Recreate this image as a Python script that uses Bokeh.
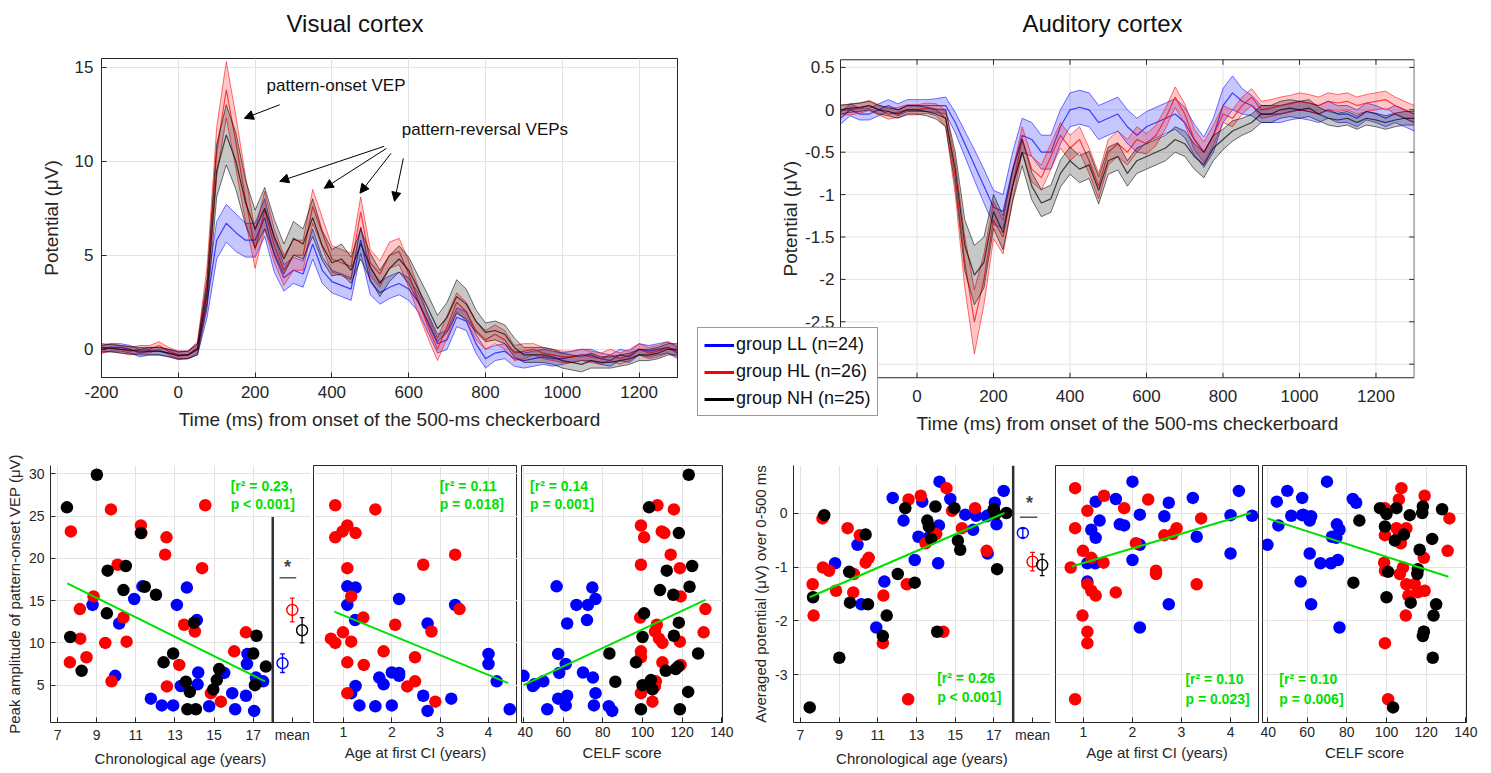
import numpy as np
from bokeh.plotting import figure
from bokeh.layouts import column, row
from bokeh.models import (Range1d, FixedTicker, Legend, LegendItem, Label, Arrow,
                          NormalHead, Span, Title)
from bokeh.core.properties import value
from bokeh.embed import file_html
from bokeh.resources import INLINE

# ---------------- DATA ----------------
t_ms = list(range(-200, 1301, 25))

vis_LL_mean = [0.0, 0.1, 0.1, 0.0, -0.2, -0.1, -0.1, -0.2, -0.3, -0.3,
               0.0, 2.5, 5.8, 6.7, 6.2, 5.8, 5.8, 7.0, 5.0, 3.8,
               4.2, 4.0, 5.6, 4.2, 3.6, 3.4, 3.2, 5.8, 3.6, 3.0,
               3.3, 3.5, 3.2, 2.5, 1.4, 0.3, 0.5, 1.7, 1.5, 0.3,
               -0.5, -0.2, -0.1, -0.5, -0.6, -0.5, -0.4, -0.5, -0.5, -0.4,
               -0.3, -0.3, -0.5, -0.6, -0.3, -0.4, 0.0, -0.1, 0.0, 0.1,
               -0.2]
vis_LL_sem = [0.2, 0.2, 0.2, 0.2, 0.2, 0.2, 0.2, 0.2, 0.2, 0.2,
              0.3, 0.8, 1.0, 1.0, 1.0, 0.9, 0.9, 1.0, 0.9, 0.7,
              0.7, 0.7, 0.8, 0.7, 0.6, 0.6, 0.6, 0.7, 0.7, 0.6,
              0.6, 0.6, 0.6, 0.5, 0.5, 0.5, 0.5, 0.5, 0.5, 0.5,
              0.5, 0.4, 0.4, 0.4, 0.4, 0.4, 0.4, 0.4, 0.3, 0.3,
              0.3, 0.3, 0.3, 0.3, 0.3, 0.3, 0.3, 0.3, 0.3, 0.3,
              0.3]
vis_HL_mean = [0.0, 0.1, 0.0, -0.1, 0.0, 0.0, 0.2, -0.1, -0.3, -0.3,
               0.1, 3.5, 10.5, 13.8, 11.0, 8.0, 5.3, 7.4, 5.5, 4.2,
               5.0, 5.0, 7.6, 6.2, 4.8, 4.6, 4.4, 7.3, 4.6, 4.0,
               5.0, 5.2, 4.0, 2.6, 1.2, 0.0, 1.2, 2.5, 2.0, 1.0,
               0.5, 0.8, 0.5, -0.2, -0.1, 0.0, -0.2, -0.3, -0.4, -0.4,
               -0.3, -0.4, -0.5, -0.3, -0.5, -0.3, 0.0, -0.2, -0.1, 0.1,
               -0.1]
vis_HL_sem = [0.2, 0.2, 0.2, 0.2, 0.2, 0.2, 0.2, 0.2, 0.2, 0.2,
              0.3, 0.9, 1.3, 1.5, 1.4, 1.2, 1.0, 1.0, 0.9, 0.8,
              0.8, 0.8, 0.9, 0.8, 0.7, 0.7, 0.7, 0.8, 0.7, 0.7,
              0.7, 0.7, 0.7, 0.7, 0.6, 0.6, 0.6, 0.5, 0.5, 0.5,
              0.5, 0.5, 0.5, 0.4, 0.4, 0.3, 0.3, 0.3, 0.3, 0.3,
              0.3, 0.3, 0.3, 0.3, 0.3, 0.3, 0.3, 0.3, 0.3, 0.3,
              0.3]
vis_NH_mean = [0.1, 0.05, 0.0, -0.05, -0.1, -0.1, -0.1, -0.2, -0.35, -0.3,
               0.0, 3.0, 9.5, 11.4, 10.0, 7.8, 6.4, 7.5, 6.0, 4.8,
               5.9, 5.6, 7.0, 5.5, 4.6, 4.8, 4.2, 5.6, 4.4, 3.5,
               4.3, 4.8, 4.2, 3.2, 2.2, 1.1, 1.7, 2.8, 2.4, 1.5,
               0.9, 1.0, 0.8, 0.1, -0.3, -0.3, -0.3, -0.4, -0.6, -0.7,
               -0.8, -0.6, -0.7, -0.7, -0.6, -0.5, -0.3, -0.3, -0.2, 0.0,
               0.0]
vis_NH_sem = [0.2, 0.2, 0.2, 0.2, 0.2, 0.2, 0.2, 0.2, 0.2, 0.2,
              0.3, 0.8, 1.4, 1.6, 1.5, 1.2, 1.0, 1.1, 0.9, 0.8,
              0.9, 0.8, 1.0, 0.8, 0.7, 0.8, 0.7, 0.8, 0.7, 0.7,
              0.7, 0.7, 0.7, 0.7, 0.7, 0.7, 0.8, 0.9, 0.8, 0.6,
              0.5, 0.5, 0.5, 0.5, 0.4, 0.4, 0.4, 0.4, 0.4, 0.4,
              0.4, 0.4, 0.3, 0.3, 0.3, 0.3, 0.3, 0.3, 0.3, 0.3,
              0.3]

aud_LL_mean = [-0.1, 0.0, -0.05, -0.05, 0.0, 0.05, 0.0, 0.05, 0.05, 0.05,
               0.05, 0.05, -0.15, -0.4, -0.65, -0.9, -1.15, -1.2, -0.7, -0.3,
               -0.35, -0.5, -0.5, -0.2, 0.0, 0.03, 0.0, -0.15, -0.1, -0.05,
               -0.2, -0.3, -0.2, -0.15, -0.1, -0.05, -0.15, -0.35, -0.5, -0.3,
               0.05, 0.2, 0.1, 0.05, -0.05, -0.05, -0.05, -0.02, 0.0, -0.02,
               -0.05, 0.0, -0.05, -0.05, -0.1, -0.02, -0.05, -0.1, -0.05, -0.1,
               -0.15]
aud_LL_sem = [0.07, 0.07, 0.07, 0.07, 0.07, 0.07, 0.07, 0.07, 0.07, 0.07,
              0.08, 0.1, 0.12, 0.15, 0.18, 0.2, 0.2, 0.2, 0.2, 0.2,
              0.2, 0.2, 0.2, 0.2, 0.2, 0.2, 0.2, 0.2, 0.2, 0.2,
              0.2, 0.2, 0.18, 0.18, 0.18, 0.18, 0.18, 0.18, 0.18, 0.2,
              0.2, 0.2, 0.15, 0.12, 0.1, 0.1, 0.1, 0.1, 0.1, 0.1,
              0.1, 0.1, 0.1, 0.1, 0.1, 0.1, 0.1, 0.1, 0.1, 0.1,
              0.1]
aud_HL_mean = [0.0, 0.0, 0.02, 0.05, 0.0, -0.05, -0.03, 0.0, 0.0, 0.02,
               0.0, -0.1, -0.8, -1.8, -2.5, -2.0, -1.3, -1.5, -0.9, -0.35,
               -0.7, -0.8, -0.55, -0.3, -0.45, -0.35, -0.6, -0.9, -0.5, -0.4,
               -0.5, -0.35, -0.4, -0.3, -0.1, 0.15, -0.05, -0.35, -0.5, -0.3,
               -0.05, -0.1, 0.05, 0.15, 0.0, 0.02, 0.05, 0.07, 0.1, 0.08,
               0.05, 0.1, 0.08, 0.1, 0.05, 0.08, 0.1, 0.12, 0.05, 0.0,
               -0.05]
aud_HL_sem = [0.06, 0.06, 0.06, 0.06, 0.06, 0.06, 0.06, 0.06, 0.06, 0.06,
              0.07, 0.1, 0.2, 0.3, 0.38, 0.3, 0.22, 0.2, 0.18, 0.15,
              0.15, 0.15, 0.15, 0.15, 0.15, 0.15, 0.15, 0.15, 0.15, 0.15,
              0.15, 0.15, 0.12, 0.12, 0.12, 0.12, 0.12, 0.12, 0.12, 0.12,
              0.1, 0.1, 0.1, 0.1, 0.1, 0.1, 0.1, 0.1, 0.1, 0.1,
              0.1, 0.1, 0.1, 0.1, 0.1, 0.1, 0.1, 0.1, 0.1, 0.1,
              0.1]
aud_NH_mean = [0.0, 0.02, 0.03, 0.05, 0.0, -0.02, -0.05, 0.0, 0.0, -0.02,
               -0.05, -0.1, -0.7, -1.6, -1.95, -1.8, -1.2, -1.45, -0.9, -0.5,
               -0.9, -1.1, -1.05, -0.75, -0.6, -0.7, -0.65, -0.95, -0.6, -0.55,
               -0.75, -0.6, -0.55, -0.5, -0.45, -0.35, -0.4, -0.55, -0.65, -0.45,
               -0.35, -0.25, -0.2, -0.15, -0.05, -0.05, 0.0, 0.02, 0.0, 0.02,
               -0.05, -0.1, -0.12, -0.1, -0.15, -0.1, -0.12, -0.15, -0.12, -0.1,
               -0.1]
aud_NH_sem = [0.05, 0.05, 0.05, 0.05, 0.05, 0.05, 0.05, 0.05, 0.05, 0.05,
              0.06, 0.1, 0.2, 0.3, 0.35, 0.3, 0.2, 0.2, 0.18, 0.16,
              0.16, 0.16, 0.16, 0.16, 0.16, 0.16, 0.16, 0.16, 0.16, 0.16,
              0.15, 0.15, 0.15, 0.15, 0.15, 0.15, 0.15, 0.15, 0.15, 0.15,
              0.12, 0.12, 0.1, 0.1, 0.1, 0.1, 0.1, 0.1, 0.1, 0.1,
              0.08, 0.08, 0.08, 0.08, 0.08, 0.08, 0.08, 0.08, 0.08, 0.08,
              0.08]

# per-subject values
age_LL = [8.79, 9.95, 10.15, 10.92, 11.34, 11.77, 12.33, 12.91, 13.10, 13.30, 13.61, 14.12,
          14.19, 14.16, 14.75, 15.52, 15.93, 16.08, 16.63, 16.71, 16.68, 17.05, 17.14, 17.51]
ci_LL = [1.08, 2.15, 2.74, 2.15, 1.08, 3.23, 1.33, 2.00, 3.31, 1.25, 1.25, 1.24,
         2.00, 1.83, 1.66, 2.15, 1.16, 4.44, 2.65, 4.00, 4.00, 2.74, 1.74, 4.17]
celf_LL = [66.7, 40, 62, 76.3, 56.7, 57.5, 61.3, 75.5, 72.5, 44.7, 74.7, 72,
           70, 45.5, 83, 58, 76.3, 52, 62, 57.5, 61.3, 84.7, 75, 50]
vep_LL = [14.5, 6.1, 12.3, 15.2, 16.7, 3.4, 2.6, 2.6, 14.5, 4.9, 16.55, 12.7,
          6.5, 5.1, 2.5, 6.45, 4.05, 2.15, 3.75, 8.7, 7.5, 1.95, 5.9, 5.45]
aud_LL = [-0.93, -0.59, -1.69, -2.12, -1.27, 0.28, -0.14, -0.87, -0.44, 0.21, -0.46, -0.93,
          0.58, -0.23, 0.26, -0.03, -0.31, -0.05, -0.06, -0.04, -0.75, 0.19, -0.21, 0.41]

age_HL = [7.68, 7.63, 8.14, 8.16, 8.48, 8.84, 9.73, 9.44, 9.76, 10.07, 10.37, 10.53, 11.26,
          11.29, 12.57, 12.50, 12.59, 13.22, 13.47, 14.02, 14.39, 14.55, 14.84, 15.35, 16.03, 16.63]
ci_HL = [0.98, 1.08, 3.40, 0.74, 2.48, 1.16, 1.66, 0.83, 2.48, 2.65, 1.41, 1.16, 1.08,
         1.25, 0.83, 3.31, 2.32, 1.42, 2.07, 2.82, 1.08, 0.83, 1.08, 2.90, 1.83, 0.99]
celf_HL = [109.7, 110, 131.7, 108.3, 99.2, 119.2, 115.8, 110, 106.7, 99.2, 98.8, 118.8, 99.2,
           111, 100.8, 114.2, 106.2, 119.2, 107.2, 106.3, 118.8, 107.5, 99.2, 105, 99.2, 130.8]
vep_HL = [23.2, 7.7, 14.0, 10.5, 8.3, 15.5, 25.8, 10.0, 5.45, 19.25, 13.0, 10.15, 23.9,
          23.0, 22.5, 20.45, 4.85, 7.4, 12.15, 11.35, 18.85, 26.3, 4.05, 3.05, 9.0, 11.25]
aud_HL = [-1.9, -1.32, -0.1, -1.01, -1.07, -1.44, -1.47, -0.28, -1.13, -0.41, -0.92, -0.83, -2.41,
          -1.53, -3.45, -1.32, 0.25, 0.32, -0.56, -0.39, -2.2, 0.46, 0.04, -0.28, 0.09, -0.70]

age_NH = [7.48, 9.01, 7.65, 8.23, 9.56, 9.52, 10.49, 10.37, 11.26, 11.46, 12.03, 12.42, 12.91,
          13.56, 13.76, 13.64, 14.07, 13.98, 14.96, 15.14, 15.26, 17.00, 17.17, 17.09, 17.65]
celf_NH = [103.3, 123.3, 100, 111.7, 112.2, 100.8, 125, 108.8, 118.3, 123.7, 115.5, 96.7, 83.3,
           86.3, 123, 99.2, 118.8, 118.3, 105, 104.2, 116.7, 128, 115.8, 100, 118]
vep_NH = [26.05, 29.9, 10.7, 6.7, 18.55, 13.5, 19.1, 16.25, 23.0, 16.65, 15.7, 7.7, 8.75,
          5.4, 4.2, 2.15, 2.15, 12.4, 4.5, 5.6, 6.9, 8.75, 10.85, 5.0, 7.2]
aud_NH = [-3.6, -2.68, -1.56, -0.04, -1.66, -1.09, -1.69, -0.40, -2.28, -1.90, -1.13, 0.09, -1.29,
          -0.14, -0.48, -0.25, -2.2, 0.12, 0.09, -0.51, -0.68, 0.07, -1.04, -0.02, 0.0]

# group means (LL, HL, NH) shown in "mean" column
mean_pos = [18.5, 19.0, 19.5]
vep_grp_mean = [7.6, 13.9, 11.5]
vep_grp_sem = [1.1, 1.4, 1.5]
aud_grp_mean = [-0.37, -0.90, -0.96]
aud_grp_sem = [0.08, 0.17, 0.20]

# regression lines (end points)
fit_vep_age_x, fit_vep_age_y = [7.5, 17.6], [17.05, 5.45]
fit_vep_ci_x, fit_vep_ci_y = [0.81, 4.41], [13.7, 5.24]
fit_vep_celf_x, fit_vep_celf_y = [40, 131.7], [5.0, 15.1]
fit_aud_age_x, fit_aud_age_y = [7.47, 17.55], [-1.56, 0.0]
fit_aud_ci_x, fit_aud_ci_y = [0.76, 4.41], [-0.99, 0.0]
fit_aud_celf_x, fit_aud_celf_y = [40, 131.2], [-0.1, -1.18]

stats_vep = [["[r² = 0.23,", "p < 0.001]"], ["[r² = 0.11", "p = 0.018]"], ["[r² = 0.14", "p = 0.001]"]]
stats_aud = [["[r² = 0.26", "p < 0.001]"], ["[r² = 0.10", "p = 0.023]"], ["[r² = 0.10", "p = 0.006]"]]

group_labels = ["group LL (n=24)", "group HL (n=26)", "group NH (n=25)"]

time_ticks = [-200, 0, 200, 400, 600, 800, 1000, 1200]
aud_ticks = [-3, -2.5, -2, -1.5, -1, -0.5, 0, 0.5]
aud_tick_labels = ["-3", "-2.5", "-2", "-1.5", "-1", "-0.5", "0", "0.5"]

# ---------------- STYLE ----------------
FONT = "Liberation Sans"
BLUE, RED, BLACK = "#0000ff", "#ff0000", "#000000"
COLORS = [BLUE, RED, BLACK]
GREEN = "#00e000"
AX = "#262626"
GRID = "#e3e3e3"


def style(p, tick_size, label_size, lab_standoff, ax_standoff):
    for ax in p.axis:
        ax.axis_line_color = AX
        ax.major_tick_line_color = AX
        ax.minor_tick_line_color = None
        ax.major_tick_in = 5
        ax.major_tick_out = 0
        ax.major_label_text_font = FONT
        ax.major_label_text_font_size = tick_size
        ax.major_label_text_color = AX
        ax.axis_label_text_font = FONT
        ax.axis_label_text_font_size = label_size
        ax.axis_label_text_font_style = "normal"
        ax.axis_label_text_color = AX
        ax.major_label_standoff = lab_standoff
        ax.axis_label_standoff = ax_standoff
    p.grid.grid_line_color = GRID
    p.grid.grid_line_width = 1
    p.background_fill_color = "white"
    p.border_fill_color = "white"


def set_title(p, text, offset):
    # spacer panel next to the frame, then the real title further out
    p.add_layout(Title(text=" ", text_font_size="1px", standoff=19), "above")
    p.add_layout(Title(text=text, align="left", offset=offset, text_font=FONT,
                       text_font_size="24px", text_font_style="normal",
                       text_color="#111111", standoff=0), "above")


def bands(p, means, sems):
    tt = np.array(t_ms, dtype=float)
    for m, s, c in zip(means, sems, COLORS):
        m = np.array(m); s = np.array(s)
        lo, hi = m - s, m + s
        p.varea(x=tt, y1=lo, y2=hi, fill_color=c, fill_alpha=0.22)
        p.line(tt, lo, color=c, line_width=1, line_alpha=0.55)
        p.line(tt, hi, color=c, line_width=1, line_alpha=0.55)
        p.line(tt, m, color=c, line_width=1.2, line_alpha=0.7)


# ---------------- VISUAL PANEL ----------------
p_vis = figure(title=None, frame_width=576, frame_height=319, x_range=Range1d(-200, 1300),
               y_range=Range1d(-1.5, 15.46), min_border_left=101, min_border_right=13,
               min_border_top=58, min_border_bottom=63,
               output_backend="svg", toolbar_location=None)
set_title(p_vis, "Visual cortex", 185)
p_vis.xaxis.ticker = FixedTicker(ticks=time_ticks)
p_vis.xaxis.major_label_overrides = {-200: "-200"}
p_vis.yaxis.ticker = FixedTicker(ticks=[0, 5, 10, 15])
p_vis.xaxis.axis_label = "Time (ms) from onset of the 500-ms checkerboard"
p_vis.yaxis.axis_label = "Potential (μV)"
style(p_vis, "17px", "19px", 8, 8)
p_vis.yaxis.axis_label_standoff = 10
p_vis.outline_line_color = AX
bands(p_vis, [vis_LL_mean, vis_HL_mean, vis_NH_mean], [vis_LL_sem, vis_HL_sem, vis_NH_sem])

lab_kw = dict(text_font=FONT, text_font_size="17px", text_color="#111111", text_baseline="middle")
p_vis.add_layout(Label(x=230, y=14.0, text="pattern-onset VEP", **lab_kw))
p_vis.add_layout(Label(x=582, y=11.69, text="pattern-reversal VEPs", **lab_kw))
for (xs, ys, xe, ye) in [(264, 13.0, 172, 12.28), (536, 10.79, 264, 8.93), (542, 10.68, 380, 8.56),
                         (554, 10.42, 473, 8.3), (586, 10.15, 563, 7.87)]:
    p_vis.add_layout(Arrow(end=NormalHead(size=9, fill_color="black", line_color="black"),
                           x_start=xs, y_start=ys, x_end=xe, y_end=ye,
                           line_color="black", line_width=1))

# ---------------- AUDITORY PANEL (axes drawn inside an enlarged frame) ----------------
X0, X1 = -200, 1300          # drawn axes box (time)
Y0, Y1 = -3.16, 0.59         # drawn axes box (potential)
TK_X = 5 / 0.3825            # 5 px tick in ms
TK_Y = 5 / 84.8              # 5 px tick in uV
p_aud = figure(title=None, frame_width=717, frame_height=382, x_range=Range1d(-573.9, 1300.7),
               y_range=Range1d(-3.90, 0.605), min_border_left=7, min_border_right=77,
               min_border_top=58, min_border_bottom=0,
               output_backend="svg", toolbar_location=None)
set_title(p_aud, "Auditory cortex", 325)
p_aud.xaxis.visible = False
p_aud.yaxis.visible = False
p_aud.grid.visible = False
p_aud.outline_line_color = None
p_aud.background_fill_color = "white"
p_aud.border_fill_color = "white"

gx = time_ticks[1:]
p_aud.segment(x0=gx, y0=[Y0] * len(gx), x1=gx, y1=[Y1] * len(gx), line_color=GRID, line_width=1)
p_aud.segment(x0=[X0] * len(aud_ticks), y0=aud_ticks, x1=[X1] * len(aud_ticks), y1=aud_ticks,
              line_color=GRID, line_width=1)
bands(p_aud, [aud_LL_mean, aud_HL_mean, aud_NH_mean], [aud_LL_sem, aud_HL_sem, aud_NH_sem])
p_aud.segment(x0=[X0, X1, X0, X0], y0=[Y0, Y0, Y0, Y1], x1=[X0, X1, X1, X1], y1=[Y1, Y1, Y0, Y1],
              line_color=AX, line_width=1)
p_aud.segment(x0=gx, y0=[Y0] * len(gx), x1=gx, y1=[Y0 + TK_Y] * len(gx), line_color=AX)
p_aud.segment(x0=gx, y0=[Y1] * len(gx), x1=gx, y1=[Y1 - TK_Y] * len(gx), line_color=AX)
p_aud.segment(x0=[X0] * len(aud_ticks), y0=aud_ticks, x1=[X0 + TK_X] * len(aud_ticks), y1=aud_ticks,
              line_color=AX)
p_aud.segment(x0=[X1] * len(aud_ticks), y0=aud_ticks, x1=[X1 - TK_X] * len(aud_ticks), y1=aud_ticks,
              line_color=AX)
p_aud.text(x=gx, y=[Y0 - 0.215] * len(gx), text=[str(v) for v in gx], text_font=value(FONT),
           text_font_size=value("17px"), text_color=AX, text_align="center", text_baseline="middle")
p_aud.text(x=[X0 - 16] * len(aud_ticks), y=aud_ticks, text=aud_tick_labels, text_font=value(FONT),
           text_font_size=value("17px"), text_color=AX, text_align="right", text_baseline="middle")
p_aud.text(x=[550], y=[Y0 - 0.545], text=["Time (ms) from onset of the 500-ms checkerboard"],
           text_font=value(FONT), text_font_size=value("19px"), text_color=AX,
           text_align="center", text_baseline="middle")
p_aud.text(x=[-331], y=[(Y0 + Y1) / 2], text=["Potential (μV)"], angle=np.pi / 2,
           text_font=value(FONT), text_font_size=value("19px"), text_color=AX,
           text_align="center", text_baseline="middle")

items = []
for lab, c in zip(group_labels, COLORS):
    # legend-only renderer, placed outside the visible ranges
    r = p_aud.line(x=[5000, 5001], y=[50, 50], color=c, line_width=3)
    items.append(LegendItem(label=lab, renderers=[r]))
leg = Legend(items=items, location=(0, 24), label_text_font=FONT, label_text_font_size="18px",
             label_text_color="#111111", glyph_width=30, glyph_height=20, label_standoff=2,
             padding=6, spacing=6, margin=0, border_line_color="#333333", border_line_width=1,
             background_fill_color="white", background_fill_alpha=1.0)
p_aud.add_layout(leg)


# ---------------- BOTTOM PANELS ----------------
def bottom_fig(fw, bl, br, xr, yr, xticks, xlabel, yticks, ylabel=None, yover=None,
               xover=None, gridx=None, box=True):
    p = figure(title=None, frame_width=fw, frame_height=257, x_range=Range1d(*xr),
               y_range=Range1d(*yr),
               min_border_left=bl, min_border_right=br, min_border_top=25, min_border_bottom=48,
               output_backend="svg", toolbar_location=None)
    p.xaxis.ticker = FixedTicker(ticks=xticks)
    if xover:
        p.xaxis.major_label_overrides = xover
    p.xgrid.ticker = FixedTicker(ticks=gridx if gridx else xticks)
    p.ygrid.ticker = FixedTicker(ticks=yticks)
    p.xaxis.axis_label = xlabel
    if ylabel is None:
        p.yaxis.visible = False
    else:
        p.yaxis.ticker = FixedTicker(ticks=yticks)
        p.yaxis.axis_label = ylabel
        if yover:
            p.yaxis.major_label_overrides = yover
    style(p, "14px", "15px", 4, 4)
    p.yaxis.major_label_standoff = 6
    p.yaxis.axis_label_standoff = 3
    p.outline_line_color = AX if box else None
    return p


def scatter3(p, xs, ys):
    for x, y, c in zip(xs, ys, COLORS):
        p.scatter(x=x, y=y, size=12.5, fill_color=c, line_color=None, marker="circle")


def stats(p, x, y1, y2, lines):
    kw = dict(text_font=FONT, text_font_size="14px", text_font_style="bold",
              text_color=GREEN, text_baseline="middle", text_align="left")
    p.add_layout(Label(x=x, y=y1, text=lines[0], **kw))
    p.add_layout(Label(x=x, y=y2, text=lines[1], **kw))


def mean_column(p, means, sems, cap):
    for x, m, s, c in zip(mean_pos, means, sems, COLORS):
        p.segment(x0=[x], y0=[m - s], x1=[x], y1=[m + s], line_color=c, line_width=1.3)
        p.segment(x0=[x - cap, x - cap], y0=[m - s, m + s], x1=[x + cap, x + cap], y1=[m - s, m + s],
                  line_color=c, line_width=1.3)
        p.scatter(x=[x], y=[m], size=11, marker="circle", fill_color=None, line_color=c, line_width=1.4)


age_ticks = [7, 9, 11, 13, 15, 17, 19]
age_over = {19: "mean"}
celf_ticks = [40, 60, 80, 100, 120, 140]

# Panel A
pA = bottom_fig(260, 50, 3, (6.64, 19.93), (0.58, 31.0), age_ticks, "Chronological age (years)",
                [5, 10, 15, 20, 25, 30], ylabel="Peak amplitude of pattern-onset VEP (μV)",
                xover=age_over, gridx=[7, 9, 11, 13, 15, 17], box=False)
scatter3(pA, [age_LL, age_HL, age_NH], [vep_LL, vep_HL, vep_NH])
pA.line(fit_vep_age_x, fit_vep_age_y, color=GREEN, line_width=2)
pA.segment(x0=[18.0], y0=[0.58], x1=[18.0], y1=[24.9], line_color="#303030", line_width=2.5)
mean_column(pA, vep_grp_mean, vep_grp_sem, 0.12)
pA.segment(x0=[18.35], y0=[17.7], x1=[19.2], y1=[17.7], line_color="#555555", line_width=1.5)
pA.add_layout(Label(x=18.75, y=19.0, text="*", text_font=FONT, text_font_size="18px",
                    text_font_style="bold", text_align="center", text_baseline="middle"))
stats(pA, 15.85, 28.6, 26.4, stats_vep[0])

# Panel B
pB = bottom_fig(204, 0, 0, (0.38, 4.6), (0.58, 31.0), [1, 2, 3, 4], "Age at first CI (years)",
                [5, 10, 15, 20, 25, 30])
scatter3(pB, [ci_LL, ci_HL], [vep_LL, vep_HL])
pB.line(fit_vep_ci_x, fit_vep_ci_y, color=GREEN, line_width=2)
stats(pB, 2.99, 28.6, 26.4, stats_vep[1])

# Panel C
pC = bottom_fig(201, 4, 17, (39.0, 140.3), (0.58, 31.0), celf_ticks, "CELF score",
                [5, 10, 15, 20, 25, 30])
scatter3(pC, [celf_LL, celf_HL, celf_NH], [vep_LL, vep_HL, vep_NH])
pC.line(fit_vep_celf_x, fit_vep_celf_y, color=GREEN, line_width=2)
stats(pC, 43.3, 28.6, 26.4, stats_vep[2])

# Panel D
pD = bottom_fig(257, 54, 3, (6.64, 19.93), (-3.88, 0.88), age_ticks, "Chronological age (years)",
                [-3, -2, -1, 0], ylabel="Averaged potential (μV) over 0-500 ms",
                yover={-3: "-3", -2: "-2", -1: "-1"}, xover=age_over,
                gridx=[7, 9, 11, 13, 15, 17], box=False)
scatter3(pD, [age_LL, age_HL, age_NH], [aud_LL, aud_HL, aud_NH])
pD.line(fit_aud_age_x, fit_aud_age_y, color=GREEN, line_width=2)
pD.add_layout(Span(location=18.0, dimension="height", line_color="#303030", line_width=2.5))
mean_column(pD, aud_grp_mean, aud_grp_sem, 0.12)
pD.segment(x0=[18.35], y0=[-0.08], x1=[19.25], y1=[-0.08], line_color="#555555", line_width=1.5)
pD.add_layout(Label(x=18.85, y=0.18, text="*", text_font=FONT, text_font_size="18px",
                    text_font_style="bold", text_align="center", text_baseline="middle"))
stats(pD, 14.07, -3.05, -3.40, stats_aud[0])

# Panel E
pE = bottom_fig(203, 2, 2, (0.43, 4.57), (-3.88, 0.88), [1, 2, 3, 4], "Age at first CI (years)",
                [-3, -2, -1, 0])
scatter3(pE, [ci_LL, ci_HL], [aud_LL, aud_HL])
pE.line(fit_aud_ci_x, fit_aud_ci_y, color=GREEN, line_width=2)
stats(pE, 3.08, -3.08, -3.44, stats_aud[1])

# Panel F
pF = bottom_fig(204, 2, 25, (37.5, 140.3), (-3.88, 0.88), celf_ticks, "CELF score",
                [-3, -2, -1, 0])
scatter3(pF, [celf_LL, celf_HL, celf_NH], [aud_LL, aud_HL, aud_NH])
pF.line(fit_aud_celf_x, fit_aud_celf_y, color=GREEN, line_width=2)
stats(pF, 46.0, -3.08, -3.44, stats_aud[2])

layout = column(row(p_vis, p_aud), row(pA, pB, pC, pD, pE, pF))
open("out.html", "w").write(file_html(layout, INLINE))
